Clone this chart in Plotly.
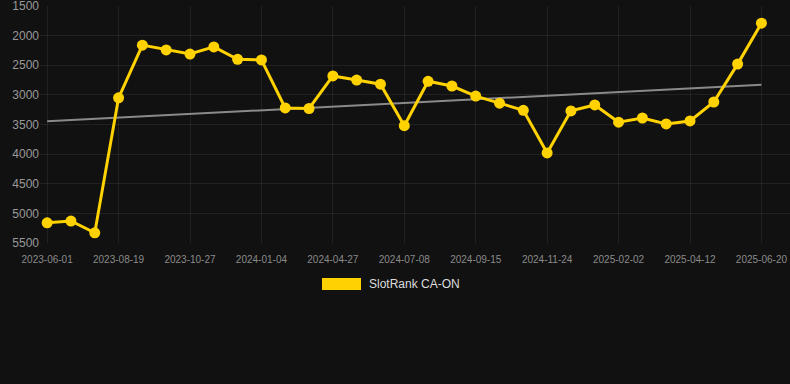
import numpy as np
import plotly.graph_objects as go

dates = [
    "2023-06-01", "2023-06-27", "2023-07-23", "2023-08-19", "2023-09-11", "2023-10-04",
    "2023-10-27", "2023-11-19", "2023-12-12", "2024-01-04", "2024-02-11", "2024-03-20",
    "2024-04-27", "2024-05-21", "2024-06-14", "2024-07-08", "2024-07-31", "2024-08-23",
    "2024-09-15", "2024-10-08", "2024-10-31", "2024-11-24", "2024-12-17", "2025-01-09",
    "2025-02-02", "2025-02-25", "2025-03-20", "2025-04-12", "2025-05-05", "2025-05-28",
    "2025-06-20",
]
ranks = [
    5160, 5130, 5330, 3050, 2160, 2240, 2310, 2190, 2400, 2410,
    3220, 3230, 2680, 2750, 2820, 3520, 2770, 2850, 3020, 3140,
    3260, 3980, 3270, 3170, 3460, 3390, 3490, 3440, 3120, 2480,
    1790,
]
tick_dates = dates[::3]
y_ticks = [1500, 2000, 2500, 3000, 3500, 4000, 4500, 5000, 5500]
series_name = "SlotRank CA-ON"

idx = np.arange(len(ranks))
slope, intercept = np.polyfit(idx, ranks, 1)
trend = (slope * idx + intercept).tolist()

yellow = "#FFD200"
bg = "#111111"
grid = "rgba(255,255,255,0.07)"

fig = go.Figure()
fig.add_trace(go.Scatter(
    x=dates, y=trend, mode="lines",
    line=dict(color="#8a8a8a", width=2),
    hoverinfo="skip", showlegend=False,
))
fig.add_trace(go.Scatter(
    x=dates, y=ranks, mode="lines+markers", name=series_name,
    line=dict(color=yellow, width=3),
    marker=dict(color=yellow, size=11),
    showlegend=False,
))

fig.update_layout(
    width=790, height=384,
    paper_bgcolor=bg, plot_bgcolor=bg,
    margin=dict(l=40, r=0, t=6, b=141),
    font=dict(family="Liberation Sans, Arial, sans-serif", color="#999"),
    showlegend=False,
)
fig.update_xaxes(
    type="category", categoryorder="array", categoryarray=dates,
    range=[-0.3, 31.2],
    tickmode="array", tickvals=tick_dates, ticktext=tick_dates,
    tickfont=dict(size=10, color="#8a8a8a"),
    ticklabelstandoff=9,
    showgrid=True, gridcolor=grid, gridwidth=1,
    zeroline=False, showline=False, ticks="",
)
fig.update_yaxes(
    range=[5501, 1499], autorange=False,
    tickmode="array", tickvals=y_ticks,
    tickfont=dict(size=12, color="#999999"),
    ticklabeloverflow="allow",
    showgrid=True, gridcolor=grid, gridwidth=1,
    zeroline=False, showline=False, ticks="",
)

# legend drawn as a swatch + text
fig.add_shape(type="rect", xref="paper", yref="paper",
              x0=(322 - 40) / 750, x1=(361 - 40) / 750,
              y0=(243 - 290) / 237, y1=(243 - 278) / 237,
              fillcolor=yellow, line=dict(width=0))
fig.add_annotation(xref="paper", yref="paper",
                   x=(367 - 40) / 750, y=(243 - 284) / 237,
                   xanchor="left", yanchor="middle", showarrow=False,
                   text=series_name, font=dict(size=12, color="#dddddd"))

fig.write_html(
    "out.html",
    config={"displayModeBar": False},
    post_script="document.body.style.margin='0';document.body.style.background='#111111';",
)
